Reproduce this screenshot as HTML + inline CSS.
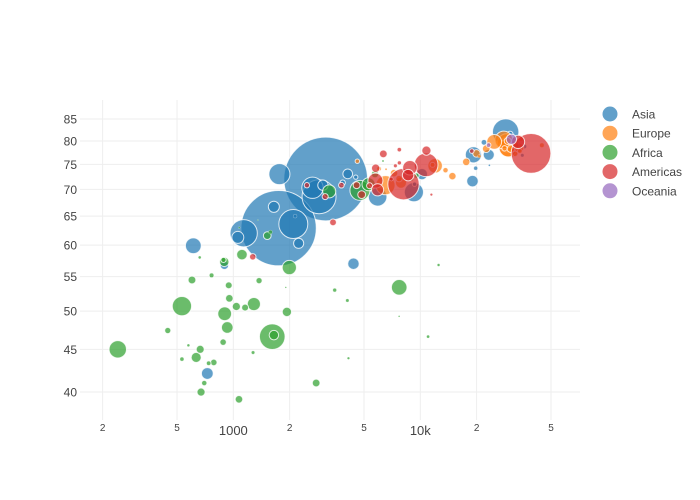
<!DOCTYPE html>
<html><head><meta charset="utf-8"><style>
body{margin:0;background:#fff;}
svg{display:block;font-family:"Liberation Sans",sans-serif;}
</style></head><body>
<svg id="chart" width="700" height="500" viewBox="0 0 700 500" xmlns="http://www.w3.org/2000/svg">
<g id="grid"></g>
<g id="points"></g>
<g id="axes"></g>
<g id="legend"></g>
</svg>
<script>
const continents = ["Asia","Europe","Africa","Americas","Oceania"];
const colors = ["#1f77b4","#ff7f0e","#2ca02c","#d62728","#9467bd"];
const xTicks = [200,500,1000,2000,5000,10000,20000,50000];
const xTickLabels = ["2","5","1000","2","5","10k","2","5"];
const yTicks = [40,45,50,55,60,65,70,75,80,85];
// [gdpPercap, lifeExp, popMillions]
const asia = [[3119,72.03,1280],[1747,62.88,1034],[2874,68.59,211],[2093,63.61,153],[1136,62.01,135.7],[28605,82.0,127],[2651,70.3,83],[1764,73.0,80.9],[9241,69.45,66.9],[5913,68.56,62.8],[611,59.9,45.6],[19234,77.0,48],[726,42.1,25.3],[4390,57.0,24.0],[1057,61.3,25.9],[10207,73.0,22.7],[19014,71.6,24.5],[2235,60.3,18.7],[23235,77.0,22.5],[1647,66.7,22.2],[3015,70.8,19.6],[4091,73.05,17.2],[896,56.75,12.9],[30209,81.5,6.76],[21905,79.7,6.03],[3845,71.3,5.3],[9313,71.0,3.7],[2140,65.0,2.67],[36023,78.8,4.2],[19775,74.2,2.7],[35110,76.9,2.1],[4515,72.4,3.4],[23404,74.8,0.66]];
const europe = [[30036,78.7,82.35],[6508,70.8,67.3],[28926,79.6,59.9],[29479,78.5,59.9],[27968,80.2,57.9],[24835,79.8,40.15],[12002,74.7,38.6],[7885,71.3,22.4],[33725,78.5,16.1],[22514,78.3,10.6],[19971,77.3,10.4],[30486,78.3,10.3],[17596,75.5,10.26],[14843,72.6,10.08],[7236,73.2,10.1],[29342,80.0,8.95],[32418,79.0,8.15],[7697,72.1,7.66],[34481,80.6,7.36],[32167,77.2,5.37],[13639,73.8,5.41],[28205,78.4,5.19],[44684,79.05,4.54],[11628,74.9,4.48],[34077,77.8,3.88],[6018,74.1,4.17],[4604,75.65,3.51],[20660,76.7,2.01],[6557,74.0,0.72],[31163,80.5,0.29]];
const africa = [[1615,46.6,119.9],[4755,69.8,73.3],[531,50.7,67.9],[241,45.0,55.4],[7711,53.4,44.4],[1993,56.4,37.1],[899,49.65,34.6],[1288,50.99,31.4],[3258,69.6,31.2],[5288,70.99,31.3],[928,47.8,24.7],[1112,58.45,20.6],[633,44.0,18.5],[894,57.3,16.5],[1648,46.8,16.25],[1934,49.9,15.9],[2773,41.0,10.9],[1038,50.65,12.25],[665,45.0,11.8],[601,54.5,11.1],[952,51.8,10.6],[672,39.99,11.9],[1519,61.6,10.9],[1072,39.2,10.6],[1156,50.5,8.8],[5723,73.0,9.77],[945,53.7,8.8],[786,43.4,7.85],[882,45.9,7.75],[446,47.4,7.0],[1373,54.4,7.03],[9535,72.7,5.37],[886,57.6,4.98],[699,41.0,5.36],[765,55.2,4.41],[738,43.3,4.05],[531,43.8,2.8],[3484,53.0,3.3],[1579,62.2,2.83],[1275,44.6,2.05],[4072,51.5,1.97],[11003,46.6,1.63],[661,58.0,1.46],[12522,56.8,1.3],[575,45.5,1.33],[9022,71.95,1.2],[4128,43.9,1.13],[1075,62.97,0.61],[1908,53.4,0.45],[7703,49.3,0.5],[6316,75.7,0.74],[1353,64.3,0.17]];
const americas = [[39097,77.3,287.7],[8131,71.0,179.9],[10742,74.9,102.5],[5755,71.7,41.0],[8798,74.3,38.3],[33329,79.8,31.9],[5909,69.9,26.8],[8605,72.8,24.3],[10779,77.9,15.5],[5773,74.2,12.9],[4858,68.98,11.2],[6341,77.2,11.2],[3413,63.9,8.45],[1270,58.1,7.6],[4564,70.8,8.65],[3099,68.6,6.68],[5351,70.7,6.35],[3784,70.8,5.88],[2474,70.8,5.15],[7723,78.1,3.83],[18856,77.8,3.86],[7727,75.3,3.36],[7357,74.7,2.99],[6994,72.0,2.66],[11461,68.98,1.1]];
const oceania = [[30688,80.37,19.5],[23190,79.1,3.9]];
const series = [asia,europe,africa,americas,oceania];

const NS="http://www.w3.org/2000/svg";
const L=80,R=580,T=100,B=420;
const xMin=2.18,xMax=4.854,yMin=Math.log10(40)-0.0336,yMax=Math.log10(85)+0.0228;
const xs=v=>L+(Math.log10(v)-xMin)/(xMax-xMin)*(R-L);
const ys=v=>B-(Math.log10(v)-yMin)/(yMax-yMin)*(B-T);
function mk(tag,attrs,parent){const e=document.createElementNS(NS,tag);for(const k in attrs)e.setAttribute(k,attrs[k]);parent.appendChild(e);return e;}
const grid=document.getElementById('grid'),axes=document.getElementById('axes'),pts=document.getElementById('points'),leg=document.getElementById('legend');
xTicks.forEach((t,i)=>{
  const x=xs(t);
  const g=mk('line',{x1:x,x2:x,y1:T,y2:B,stroke:'#eeeeee','stroke-width':1},grid);
  
  
  const big=xTickLabels[i].length>1;
  const tx=mk('text',{x:x,y:big?435:431,'text-anchor':'middle','font-size':big?13:10,fill:'#444'},axes);
  tx.textContent=xTickLabels[i];
  
  
});
yTicks.forEach(t=>{
  const y=ys(t);
  const g=mk('line',{x1:L,x2:R,y1:y,y2:y,stroke:'#eeeeee','stroke-width':1},grid);
  
  
  const tx=mk('text',{x:77,y:y+4.5,'text-anchor':'end','font-size':12,fill:'#444'},axes);
  tx.textContent=t;
  
  
});
series.forEach((s,si)=>{
  const g=mk('g',{},pts);
  
  
  s.slice().sort((a,b)=>b[2]-a[2]).forEach(d=>{
    const r=Math.max(0.6,1.17*Math.sqrt(d[2]));
    const c=mk('circle',{cx:xs(d[0]),cy:ys(d[1]),r:r,fill:colors[si],'fill-opacity':0.7,stroke:'#fff','stroke-width':r>2?1:0.3,'stroke-opacity':0.8},g);
    
    
  });
});
continents.forEach((n,i)=>{
  const y=114+i*19.2;
  const g=mk('g',{},leg);
  
  
  mk('circle',{cx:610,cy:y,r:7.5,fill:colors[i],'fill-opacity':0.7},g);
  const t=mk('text',{x:632,y:y+4.5,'font-size':12,fill:'#444'},g);
  t.textContent=n;
});
</script>
</body></html>
